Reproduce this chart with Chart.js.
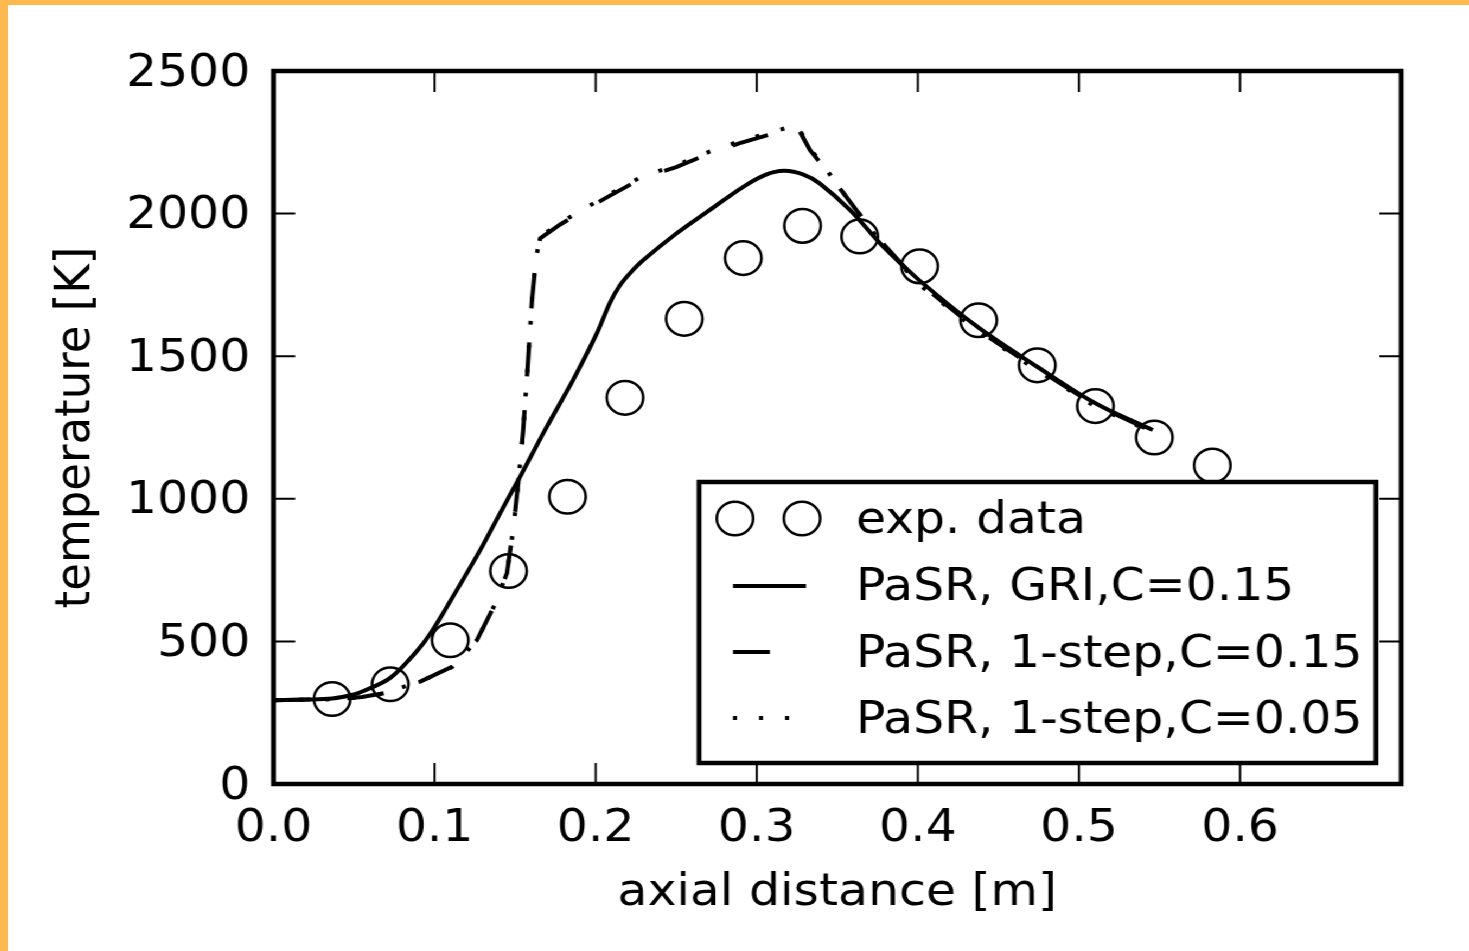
<!DOCTYPE html>
<html>
<head>
<meta charset="utf-8">
<script src="https://cdn.jsdelivr.net/npm/chart.js@4.4.1/dist/chart.umd.min.js"></script>
<style>
  html, body { margin:0; padding:0; background:#FDB94E; overflow:hidden; width:1469px; height:951px; }
  #wrap { position:absolute; left:8px; top:5px; width:1347px; height:946px; background:#fff;
          transform:scaleX(1.085); transform-origin:0 0; }
  canvas { display:block; }
</style>
</head>
<body>
<div id="wrap"><canvas id="c" width="1347" height="946" style="width:1347px;height:946px"></canvas></div>
<script>
// ---- data ----
const expX = [0.0364, 0.0725, 0.1097, 0.1459, 0.1825, 0.2182, 0.2550, 0.2916, 0.3284, 0.3639, 0.4011, 0.4377, 0.4741, 0.5102, 0.5468, 0.5828];
const expY = [298, 350, 504, 747, 1007, 1354, 1631, 1844, 1957, 1920, 1815, 1626, 1468, 1325, 1215, 1117];

const griX = [0, 0.02, 0.0364, 0.05, 0.0558, 0.0725, 0.089, 0.0973, 0.1077, 0.1283, 0.1407, 0.153, 0.1697, 0.186, 0.2007, 0.2089, 0.2150, 0.2213, 0.2296, 0.2503, 0.2709, 0.2916, 0.3050, 0.3170, 0.3290, 0.339, 0.3578, 0.3785, 0.4011, 0.4377, 0.4741, 0.5102, 0.5458];
const griY = [294, 296, 300, 314, 326, 372, 466, 527, 622, 820, 950, 1077, 1253, 1417, 1580, 1688, 1748, 1791, 1837, 1931, 2013, 2094, 2135, 2150, 2137, 2106, 2013, 1884, 1765, 1600, 1463, 1335, 1241];

const step15X = [0, 0.0364, 0.055, 0.0684, 0.0787, 0.0911, 0.1108, 0.118, 0.1263, 0.1366, 0.1449, 0.149, 0.152, 0.155, 0.158, 0.1605, 0.163, 0.1655, 0.178, 0.2047, 0.229, 0.250, 0.271, 0.2895, 0.325, 0.333, 0.343, 0.3515, 0.3617, 0.376, 0.4011, 0.4377, 0.4741, 0.5102, 0.5475];
const step15Y = [294, 297, 305, 318, 337, 359, 411, 452, 505, 620, 739, 900, 1060, 1240, 1480, 1700, 1843, 1913, 1962, 2050, 2125, 2163, 2212, 2247, 2305, 2223, 2153, 2089, 2013, 1910, 1755, 1590, 1455, 1328, 1232];

const step05X = [0, 0.0364, 0.055, 0.0684, 0.0787, 0.0911, 0.1108, 0.118, 0.1263, 0.1366, 0.1449, 0.149, 0.152, 0.155, 0.158, 0.1605, 0.163, 0.1655, 0.178, 0.2047, 0.229, 0.250, 0.271, 0.2895, 0.325, 0.333, 0.343, 0.3515, 0.3617, 0.376, 0.4011, 0.4377, 0.4741, 0.5102, 0.5475];
const step05Y = [294, 297, 304, 317, 337, 359, 410, 452, 505, 620, 739, 900, 1060, 1240, 1480, 1700, 1845, 1918, 1968, 2056, 2131, 2169, 2218, 2254, 2311, 2228, 2156, 2090, 2013, 1905, 1750, 1585, 1450, 1323, 1228];

const xTickValues = [0, 0.1, 0.2, 0.3, 0.4, 0.5, 0.6, 0.7];
const xTickLabels = ['0.0', '0.1', '0.2', '0.3', '0.4', '0.5', '0.6', ''];
const yTickValues = [0, 500, 1000, 1500, 2000, 2500];
const yTickLabels = ['0', '500', '1000', '1500', '2000', '2500'];

const legendLabels = ['exp. data', 'PaSR, GRI,C=0.15', 'PaSR, 1-step,C=0.15', 'PaSR, 1-step,C=0.05'];
const xTitle = 'axial distance [m]';
const yTitle = 'temperature [K]';

// ---- helpers ----
const pts = (xs, ys) => xs.map((x, i) => ({x, y: ys[i]}));
const FONT = '"DejaVu Sans", "Liberation Sans", sans-serif';
const DASH15 = [34, 34];
const DOT05 = [3.7, 20.3];

const decorPlugin = {
  id: 'decor',
  afterDatasetsDraw(chart) {
    const {ctx, chartArea: a, scales: {x, y}} = chart;
    ctx.save();
    ctx.strokeStyle = '#000';
    ctx.lineCap = 'butt';
    // inward tick marks on all four sides
    ctx.lineWidth = 2;
    ctx.beginPath();
    xTickValues.forEach(v => {
      const px = x.getPixelForValue(v);
      ctx.moveTo(px, a.bottom); ctx.lineTo(px, a.bottom - 21);
      ctx.moveTo(px, a.top); ctx.lineTo(px, a.top + 21);
    });
    yTickValues.forEach(v => {
      const py = y.getPixelForValue(v);
      ctx.moveTo(a.left, py); ctx.lineTo(a.left + 20, py);
      ctx.moveTo(a.right, py); ctx.lineTo(a.right - 20, py);
    });
    ctx.stroke();
    // frame
    ctx.lineWidth = 4.5;
    ctx.strokeRect(a.left, a.top, a.right - a.left, a.bottom - a.top);

    // legend
    const L = 636.9, R = 1260.8, T = 477, B = 758;
    ctx.fillStyle = '#fff';
    ctx.fillRect(L, T, R - L, B - T);
    ctx.lineWidth = 4.5;
    ctx.strokeRect(L, T, R - L, B - T);
    const hx0 = 668.2, hx1 = 735.5;
    ctx.lineWidth = 2.5;
    [670, 731.8].forEach(cx => {
      ctx.beginPath(); ctx.arc(cx, 513.5, 16.8, 0, Math.PI * 2); ctx.stroke();
    });
    ctx.lineWidth = 4;
    ctx.beginPath(); ctx.moveTo(hx0, 581); ctx.lineTo(hx1, 581); ctx.stroke();
    ctx.setLineDash(DASH15);
    ctx.beginPath(); ctx.moveTo(hx0, 647); ctx.lineTo(hx1, 647); ctx.stroke();
    ctx.setLineDash(DOT05);
    ctx.beginPath(); ctx.moveTo(hx0, 713); ctx.lineTo(hx1, 713); ctx.stroke();
    ctx.setLineDash([]);
    ctx.fillStyle = '#000';
    ctx.font = '45px ' + FONT;
    ctx.textAlign = 'left';
    ctx.textBaseline = 'alphabetic';
    const base = [528, 595, 661.7, 728];
    legendLabels.forEach((t, i) => ctx.fillText(t, 781.5, base[i]));

    // axis titles
    ctx.textAlign = 'center';
    ctx.fillText(xTitle, (a.left + a.right) / 2, 900);
    ctx.save();
    ctx.translate(74.6, (a.top + a.bottom) / 2);
    ctx.rotate(-Math.PI / 2);
    ctx.fillText(yTitle, 0, 0);
    ctx.restore();
    ctx.restore();
  }
};

new Chart(document.getElementById('c'), {
  type: 'scatter',
  data: {
    datasets: [
      { label: legendLabels[0], data: pts(expX, expY), showLine: false,
        pointStyle: 'circle', pointRadius: 16.8, pointHoverRadius: 16.8,
        borderColor: '#000', backgroundColor: 'rgba(0,0,0,0)', pointBorderWidth: 2.5, order: 1 },
      { label: legendLabels[1], data: pts(griX, griY), showLine: true, pointRadius: 0,
        borderColor: '#000', borderWidth: 4, tension: 0.35, order: 2 },
      { label: legendLabels[2], data: pts(step15X, step15Y), showLine: true, pointRadius: 0,
        borderColor: '#000', borderWidth: 4, borderDash: DASH15, tension: 0, order: 3 },
      { label: legendLabels[3], data: pts(step05X, step05Y), showLine: true, pointRadius: 0,
        borderColor: '#000', borderWidth: 4, borderDash: DOT05, tension: 0, order: 4 }
    ]
  },
  options: {
    responsive: false,
    devicePixelRatio: 1,
    animation: false,
    events: [],
    layout: { padding: { left: 0, top: 66, right: 63, bottom: 0 } },
    plugins: { legend: { display: false }, tooltip: { enabled: false }, title: { display: false } },
    scales: {
      x: {
        type: 'linear', min: 0, max: 0.7,
        border: { display: false },
        grid: { display: false, drawTicks: false },
        afterBuildTicks: s => { s.ticks = xTickValues.map(v => ({value: v})); },
        afterFit: s => { s.height = 167; },
        ticks: {
          autoSkip: false, maxRotation: 0, padding: 18, color: '#000',
          font: { family: FONT, size: 45 },
          callback: (v) => { const i = xTickValues.findIndex(t => Math.abs(t - v) < 1e-9); return i >= 0 ? xTickLabels[i] : ''; }
        }
      },
      y: {
        type: 'linear', min: 0, max: 2500,
        border: { display: false },
        grid: { display: false, drawTicks: false },
        afterBuildTicks: s => { s.ticks = yTickValues.map(v => ({value: v})); },
        afterFit: s => { s.width = 244.7; },
        ticks: {
          autoSkip: false, padding: 21.4, color: '#000', labelOffset: 3,
          font: { family: FONT, size: 45 },
          callback: (v) => { const i = yTickValues.indexOf(v); return i >= 0 ? yTickLabels[i] : ''; }
        }
      }
    }
  },
  plugins: [decorPlugin]
});
</script>
</body>
</html>
